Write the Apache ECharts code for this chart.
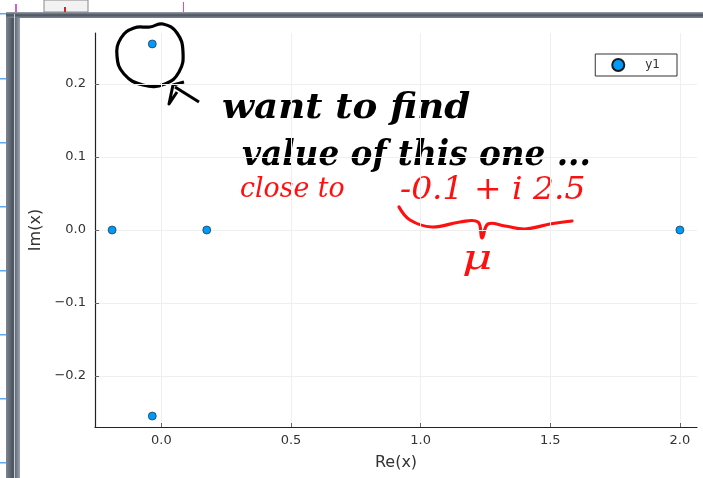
<!DOCTYPE html>
<html>
<head>
<meta charset="utf-8">
<script src="https://cdn.jsdelivr.net/npm/echarts@6/dist/echarts.min.js"></script>
<style>html,body{margin:0;padding:0;background:#fff}#c{width:703px;height:478px}</style>
</head>
<body>
<div id="c"></div>
<script>
// Data: roots in the complex plane
const reValues = [-0.19, -0.035, -0.035, 0.175, 2.0];
const imValues = [0.0, 0.255, -0.255, 0.0, 0.0];
const seriesName = 'y1';
const xTicks = [0.0, 0.5, 1.0, 1.5, 2.0];
const yTicks = [-0.2, -0.1, 0.0, 0.1, 0.2];
const xLabel = 'Re(x)';
const yLabel = 'Im(x)';
const noteLine1 = 'want to find';
const noteLine2 = 'value of this one ...';
const noteRed1 = 'close to';
const noteRed2 = '-0.1 + i 2.5';
const noteMu = 'μ';

const chart = echarts.init(document.getElementById('c'), null, {renderer: 'canvas'});
const font = 'DejaVu Sans';
const hand = '"DejaVu Serif", serif';
const frameGrad = {type: 'linear', x: 0, y: 0, x2: 1, y2: 0,
  colorStops: [{offset: 0, color: '#7d8794'}, {offset: 0.5, color: '#4a525c'}, {offset: 1, color: '#9aa4b1'}]};
const frameGradV = {type: 'linear', x: 0, y: 0, x2: 0, y2: 1,
  colorStops: [{offset: 0, color: '#9aa4b1'}, {offset: 0.5, color: '#4a525c'}, {offset: 1, color: '#7d8794'}]};

const blueTicks = [13, 78, 142, 206, 270, 334, 398, 462].map(y => ({
  type: 'rect', shape: {x: 0, y: y, width: 6, height: 1.5}, style: {fill: '#5fa8f0'}, silent: true
}));

// x = left edge, y = baseline of the handwritten line
function note(text, x, y, size, sx, sy, color, weight) {
  return {type: 'text', silent: true, x: x, y: y, scaleX: sx, scaleY: sy,
    style: {text: text, font: 'italic ' + (weight || 'normal') + ' ' + size + 'px ' + hand,
      fill: color, align: 'left', verticalAlign: 'bottom', lineHeight: size * 1.6}};
}

chart.setOption({
  animation: false,
  backgroundColor: '#fff',
  textStyle: {fontFamily: font},
  grid: {left: 95, right: 6, top: 33, bottom: 51, containLabel: false},
  legend: {
    right: 26, top: 54, orient: 'vertical',
    data: [seriesName],
    itemWidth: 28, itemHeight: 12, itemGap: 4,
    padding: [4, 17, 4, 16],
    borderColor: '#333', borderWidth: 1,
    textStyle: {fontSize: 12, color: '#333', fontFamily: font, padding: [0, 0, 0, 8]}
  },
  xAxis: {
    type: 'value', min: -0.256, max: 2.066,
    name: xLabel, nameLocation: 'middle', nameGap: 28,
    nameTextStyle: {fontSize: 16, color: '#333', fontFamily: font},
    axisLine: {onZero: false, lineStyle: {color: '#222', width: 1.2}},
    axisTick: {show: true, inside: true, length: 4, customValues: xTicks, lineStyle: {color: '#666'}},
    axisLabel: {customValues: xTicks, fontSize: 13, color: '#333', margin: 7,
      formatter: v => v.toFixed(1)},
    splitLine: {show: true, lineStyle: {color: '#efefef', width: 1}}
  },
  yAxis: {
    type: 'value', min: -0.27, max: 0.27,
    name: yLabel, nameLocation: 'middle', nameGap: 50,
    nameTextStyle: {fontSize: 16, color: '#333', fontFamily: font},
    axisLine: {onZero: false, lineStyle: {color: '#222', width: 1.2}},
    axisTick: {show: true, inside: true, length: 4, customValues: yTicks, lineStyle: {color: '#666'}},
    axisLabel: {customValues: yTicks, fontSize: 13, color: '#333', margin: 9,
      formatter: v => (v < 0 ? '\u2212' + Math.abs(v).toFixed(1) : v.toFixed(1))},
    splitLine: {show: true, lineStyle: {color: '#efefef', width: 1}}
  },
  series: [{
    name: seriesName, type: 'scatter',
    data: reValues.map((x, i) => [x, imValues[i]]),
    symbolSize: 8,
    itemStyle: {color: '#009AFA', borderColor: '#1a1a1a', borderWidth: 0.6, opacity: 1}
  }],
  graphic: [
    // window frame
    {type: 'rect', shape: {x: 6, y: 12, width: 14, height: 466}, style: {fill: frameGrad}, silent: true},
    {type: 'rect', shape: {x: 6, y: 12, width: 697, height: 6}, style: {fill: frameGradV}, silent: true},
    {type: 'rect', shape: {x: 14, y: 14, width: 1, height: 464}, style: {fill: '#c5ccd5'}, silent: true},
    {type: 'rect', shape: {x: 44, y: 0, width: 44, height: 12}, style: {fill: '#f2f2f2', stroke: '#888', lineWidth: 1}, silent: true},
    {type: 'rect', shape: {x: 64, y: 7, width: 2, height: 5}, style: {fill: '#e02020'}, silent: true},
    {type: 'rect', shape: {x: 15, y: 4, width: 2, height: 8}, style: {fill: '#d060d0'}, silent: true},
    {type: 'rect', shape: {x: 183, y: 2, width: 1, height: 10}, style: {fill: '#ff40a0'}, silent: true},
    ...blueTicks,
    // hand drawn circle around the point
    {type: 'polygon', silent: true,
      shape: {points: [[121, 38], [134, 28], [150, 27], [163, 24], [177, 33], [183, 52], [179, 72], [165, 84], [143, 85], [124, 74], [117, 56]], smooth: 0.45},
      style: {fill: 'none', stroke: '#000', lineWidth: 3.2}},
    // arrow
    {type: 'polyline', silent: true, shape: {points: [[199, 102], [175, 87]]}, style: {stroke: '#000', lineWidth: 3, fill: 'none'}},
    {type: 'polyline', silent: true, shape: {points: [[184, 82], [173, 85], [169, 104], [177, 92]]}, style: {stroke: '#000', lineWidth: 3, fill: 'none', lineJoin: 'round'}},
    // handwritten notes
    note(noteLine2, 242, 184, 30, 1.09, 1.2, '#000', 'bold'),
    note(noteLine1, 222, 137, 30, 1.24, 1.2, '#000', 'bold'),
    note(noteRed1, 240, 212, 26, 1.03, 1.1, '#ff1010', 'normal'),
    note(noteRed2, 400, 216, 27, 1.22, 1.15, '#ff1010', 'normal'),
    // brace
    {type: 'polyline', silent: true,
      shape: {points: [[399, 207], [410, 220], [432, 227], [460, 222], [478, 222], [482, 238], [488, 224], [505, 226], [525, 229], [550, 224], [572, 221]], smooth: 0.4},
      style: {stroke: '#ff1010', lineWidth: 3.2, fill: 'none', lineCap: 'round'}},
    note(noteMu, 462, 288, 36, 1.3, 1.0, '#ff1010', 'normal')
  ]
});
</script>
</body>
</html>
